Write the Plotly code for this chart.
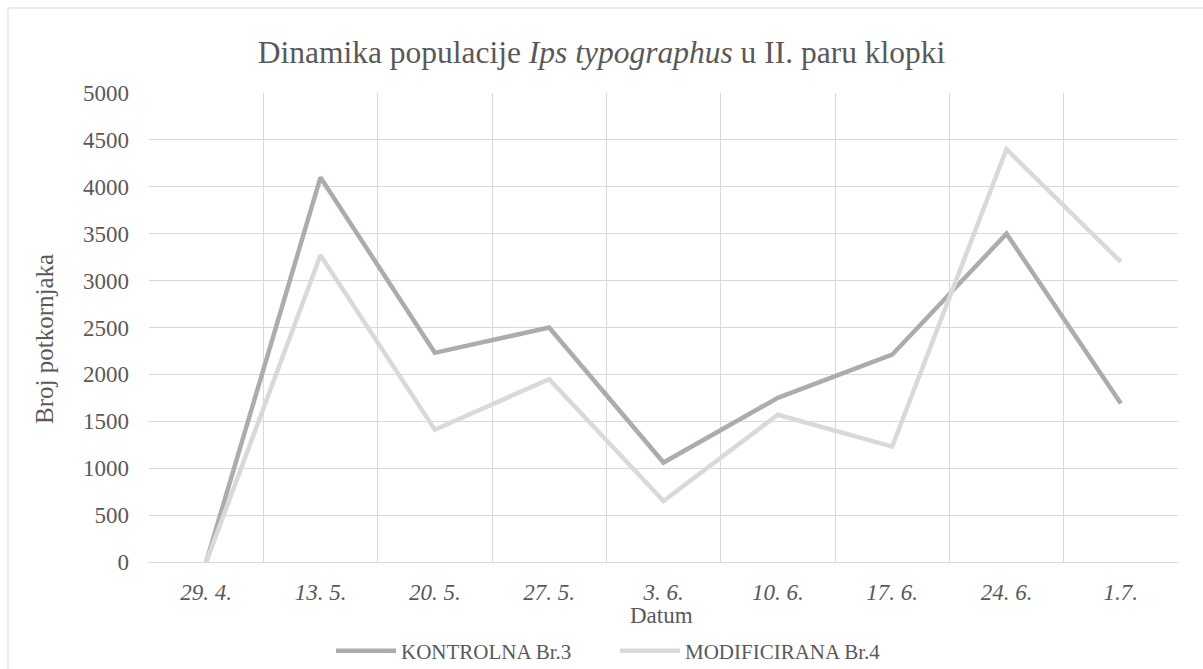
import plotly.graph_objects as go

dates = ["29. 4.", "13. 5.", "20. 5.", "27. 5.", "3. 6.", "10. 6.", "17. 6.", "24. 6.", "1.7."]
kontrolna = [0, 4100, 2230, 2500, 1060, 1750, 2210, 3500, 1690]
modificirana = [0, 3270, 1410, 1950, 650, 1570, 1230, 4400, 3200]

FONT = "Liberation Serif, Times New Roman, serif"
TXT = "#595959"
W, H = 1203, 669
ml, mr, mt, mb = 149, 25, 93, 107
pw, ph = W - ml - mr, H - mt - mb


def px_x(x):
    return (x - ml) / pw


def px_y(y):
    return (H - mb - y) / ph


fig = go.Figure()
fig.add_trace(go.Scatter(x=dates, y=kontrolna, mode="lines", name="KONTROLNA Br.3",
                         line=dict(color="#AFABAB", width=4.5)))
fig.add_trace(go.Scatter(x=dates, y=modificirana, mode="lines", name="MODIFICIRANA Br.4",
                         line=dict(color="#D9D9D9", width=4.5)))

fig.update_layout(
    width=W, height=H,
    margin=dict(l=ml, r=mr, t=mt, b=mb, autoexpand=False),
    paper_bgcolor="white", plot_bgcolor="white",
    font=dict(family=FONT, color=TXT, size=20),
    title=dict(text="Dinamika populacije <i>Ips typographus</i> u II. paru klopki",
               x=(258 + 945) / 2 / W, xanchor="center", y=1 - 52 / H, yanchor="middle",
               font=dict(size=31.5, color=TXT, family=FONT)),
    showlegend=True,
    legend=dict(orientation="h", xref="container", yref="container",
                x=615 / W, xanchor="center", y=1 - 651 / H,
                yanchor="middle", font=dict(size=21, color=TXT), traceorder="normal",
                itemwidth=60, entrywidth=209),
    shapes=[dict(type="rect", xref="paper", yref="paper",
                 x0=px_x(8), x1=px_x(W + 20),
                 y0=px_y(H + 20), y1=px_y(8),
                 line=dict(color="#D9D9D9", width=1), layer="below")],
    annotations=[
        dict(text="Datum", xref="paper", yref="paper", x=px_x(661),
             y=px_y(615), xanchor="center", yanchor="middle",
             showarrow=False, font=dict(size=23, color=TXT, family=FONT)),
        dict(text="Broj potkornjaka", xref="paper", yref="paper", x=px_x(44),
             y=px_y(339), xanchor="center", yanchor="middle", textangle=-90,
             showarrow=False, font=dict(size=25, color=TXT, family=FONT)),
    ],
)
fig.update_xaxes(type="category", range=[-0.5, 8.5], tickson="boundaries",
                 showgrid=True, gridcolor="#D9D9D9", gridwidth=1,
                 showline=True, linecolor="#D9D9D9", linewidth=1,
                 ticks="", tickfont=dict(size=23, color=TXT),
                 tickprefix="<i>", ticksuffix="</i>", ticklabelstandoff=9)
fig.update_yaxes(range=[0, 5000], dtick=500, showgrid=True, gridcolor="#D9D9D9", gridwidth=1,
                 zeroline=False, showline=False, ticks="", ticklabelstandoff=19,
                 tickfont=dict(size=23, color=TXT))

fig.write_html("out.html", config={"displayModeBar": False},
               post_script="document.body.style.margin='0';")
